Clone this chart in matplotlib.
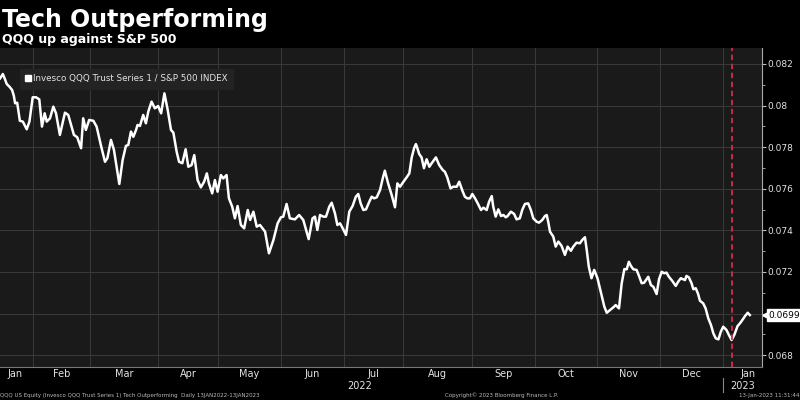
import numpy as np
import matplotlib.pyplot as plt
from matplotlib.lines import Line2D
from matplotlib.ticker import MultipleLocator

# trading day since 13-Jan-2022 and QQQ / SPX ratio
day = [0.5, 1.4, 2.0, 2.7, 3.6, 4.5, 5.1, 5.5, 6.2, 7.1, 8.1, 9.4, 10.3, 11.4, 12.5, 13.6,
       14.5, 15.4, 16.1, 17.2, 18.3, 19.2, 20.5, 22.2, 23.3, 25.2, 26.3, 27.6, 28.3, 29.2,
       30.3, 31.7, 32.8, 34.2, 35.6, 36.4, 37.6, 38.6, 39.5, 40.4, 41.5, 42.6, 43.4, 44.3,
       45.1, 46.0, 46.5, 47.3, 48.4, 49.3, 50.1, 51.2, 52.3, 53.4, 54.4, 55.5, 56.6, 57.7,
       58.5, 59.6, 60.4, 61.5, 62.6, 63.5, 64.6, 65.5, 66.6, 67.7, 68.8, 69.7, 70.4, 71.5,
       72.4, 73.3, 74.4, 75.2, 76.3, 77.1, 78.2, 79.1, 80.0, 81.1, 82.2, 83.4, 84.2, 85.3,
       86.4, 87.5, 89.2, 90.5, 92.0, 93.4, 94.5, 95.3, 96.4, 97.5, 99.2, 100.6, 102.0, 103.8,
       105.1, 105.9, 106.7, 107.6, 108.7, 109.6, 110.7, 111.5, 112.6, 113.4, 114.3, 115.2,
       116.3, 117.4, 118.5, 119.6, 120.4, 121.2, 122.1, 123.0, 124.1, 124.9, 125.7, 126.6,
       127.7, 128.6, 129.3, 130.4, 131.6, 132.7, 133.5, 134.4, 135.3, 136.6, 137.5, 138.3,
       139.1, 139.7, 140.2, 140.8, 141.6, 142.4, 143.3, 144.2, 145.0, 146.4, 147.5, 148.7,
       149.4, 150.2, 151.3, 152.2, 153.4, 154.2, 155.4, 156.1, 156.9, 157.8, 158.6, 159.5,
       160.4, 161.5, 162.3, 163.4, 164.2, 165.1, 165.6, 166.4, 167.3, 168.2, 169.0, 169.8,
       170.4, 171.5, 172.6, 173.4, 174.5, 175.3, 176.2, 177.3, 178.2, 179.0, 180.1, 180.9,
       182.0, 182.9, 183.5, 184.0, 184.6, 185.7, 186.5, 187.4, 188.5, 189.6, 190.5, 191.6,
       192.4, 193.5, 194.6, 195.4, 196.3, 196.9, 197.6, 198.5, 199.4, 200.5, 201.7, 202.8,
       203.6, 204.7, 205.8, 206.6, 207.7, 208.6, 209.5, 210.3, 211.0, 211.7, 212.5, 213.6,
       214.4, 215.3, 216.1, 216.9, 217.5, 218.4, 219.2, 220.3, 221.1, 222.0, 222.8, 223.6,
       224.4, 225.5, 226.7, 227.5, 228.4, 229.8, 230.3, 231.1, 232.0, 232.6, 233.4, 234.2,
       234.8, 235.9, 236.7, 237.6, 238.5, 239.3, 240.1, 241.0, 241.8, 242.6, 243.7, 244.5,
       245.4, 246.3, 247.4, 248.2, 249.0, 249.9, 250.8, 251.5]
ratio = [0.08131, 0.08152, 0.08131, 0.08104, 0.08091, 0.08075, 0.08046, 0.08011, 0.08014, 0.07927,
         0.07923, 0.07886, 0.07923, 0.08040, 0.08040, 0.08030, 0.07899, 0.07963, 0.07923, 0.07939,
         0.07995, 0.07963, 0.07859, 0.07966, 0.07955, 0.07859, 0.07848, 0.07795, 0.07939, 0.07883,
         0.07931, 0.07927, 0.07899, 0.07811, 0.07730, 0.07747, 0.07835, 0.07787, 0.07706, 0.07623,
         0.07738, 0.07806, 0.07811, 0.07875, 0.07850, 0.07883, 0.07907, 0.07902, 0.07955, 0.07915,
         0.07971, 0.08019, 0.07987, 0.07998, 0.07963, 0.08059, 0.07979, 0.07883, 0.07870, 0.07778,
         0.07730, 0.07723, 0.07790, 0.07706, 0.07714, 0.07762, 0.07642, 0.07607, 0.07634, 0.07674,
         0.07626, 0.07578, 0.07642, 0.07586, 0.07666, 0.07650, 0.07666, 0.07554, 0.07514, 0.07458,
         0.07517, 0.07426, 0.07410, 0.07498, 0.07450, 0.07490, 0.07418, 0.07426, 0.07394, 0.07290,
         0.07354, 0.07434, 0.07463, 0.07466, 0.07527, 0.07458, 0.07453, 0.07474, 0.07450, 0.07358,
         0.07458, 0.07466, 0.07402, 0.07474, 0.07466, 0.07466, 0.07514, 0.07533, 0.07482, 0.07426,
         0.07434, 0.07410, 0.07378, 0.07490, 0.07517, 0.07562, 0.07575, 0.07530, 0.07498, 0.07501,
         0.07538, 0.07562, 0.07554, 0.07559, 0.07594, 0.07650, 0.07687, 0.07626, 0.07570, 0.07511,
         0.07626, 0.07610, 0.07629, 0.07655, 0.07674, 0.07751, 0.07795, 0.07815, 0.07795, 0.07767,
         0.07751, 0.07699, 0.07742, 0.07706, 0.07723, 0.07751, 0.07714, 0.07690, 0.07682, 0.07655,
         0.07602, 0.07610, 0.07610, 0.07634, 0.07586, 0.07562, 0.07554, 0.07554, 0.07575, 0.07554,
         0.07530, 0.07498, 0.07509, 0.07498, 0.07538, 0.07565, 0.07514, 0.07466, 0.07501, 0.07469,
         0.07474, 0.07463, 0.07469, 0.07490, 0.07479, 0.07453, 0.07458, 0.07498, 0.07527, 0.07530,
         0.07498, 0.07458, 0.07442, 0.07437, 0.07450, 0.07469, 0.07474, 0.07442, 0.07394, 0.07370,
         0.07322, 0.07346, 0.07325, 0.07282, 0.07322, 0.07302, 0.07322, 0.07341, 0.07338, 0.07354,
         0.07367, 0.07306, 0.07225, 0.07170, 0.07210, 0.07170, 0.07098, 0.07033, 0.07004, 0.07017,
         0.07030, 0.07041, 0.07025, 0.07145, 0.07214, 0.07213, 0.07249, 0.07229, 0.07213, 0.07210,
         0.07181, 0.07146, 0.07148, 0.07165, 0.07177, 0.07137, 0.07129, 0.07094, 0.07165, 0.07201,
         0.07194, 0.07197, 0.07177, 0.07158, 0.07133, 0.07153, 0.07170, 0.07161, 0.07181, 0.07174,
         0.07146, 0.07117, 0.07122, 0.07094, 0.07062, 0.07049, 0.07025, 0.06977, 0.06945, 0.06905,
         0.06881, 0.06876, 0.06913, 0.06937, 0.06921, 0.06897, 0.06873, 0.06897, 0.06940, 0.06953,
         0.06969, 0.06988, 0.07004, 0.06993]

# months on the axis and their number of trading days in the window
months = ['Jan', 'Feb', 'Mar', 'Apr', 'May', 'Jun', 'Jul', 'Aug', 'Sep', 'Oct', 'Nov', 'Dec', 'Jan']
month_days = [12, 19, 23, 20, 21, 21, 20, 23, 21, 21, 21, 21, 9]
years = ['2022', '2023']
marker_day = 245.5

series_label = 'Invesco QQQ Trust Series 1 / S&P 500 INDEX'
y_ticks = [0.068, 0.070, 0.072, 0.074, 0.076, 0.078, 0.080, 0.082]
y_labels = ['0.068', '', '0.072', '0.074', '0.076', '0.078', '0.08', '0.082']

x_min, x_max = 0.45, 255.45
txt = '#e4e4e4'

fig = plt.figure(figsize=(8, 4), dpi=100, facecolor='black')
ax = fig.add_axes([0, 0.0825, 0.952, 0.7975])
ax.set_facecolor('#1a1a1a')

ax.plot(day, ratio, color='white', lw=1.8, solid_joinstyle='round', zorder=3)
ax.axvline(marker_day, color='#d42a4f', ls=(0, (3, 2)), lw=1.3, zorder=4)

ax.set_xlim(x_min, x_max)
ax.set_ylim(0.067432, 0.082769)

# month boundaries (gridlines) and label centres
starts = np.concatenate([[0], np.cumsum(month_days)]) - 0.5
ax.set_xticks(starts[1:-1])
ax.set_xticklabels([])
ax.tick_params(axis='x', length=0)
edges = starts.copy()
edges[-1] = x_max + 4
for i, m in enumerate(months):
    ax.text((edges[i] + edges[i + 1]) / 2, -0.022, m, transform=ax.get_xaxis_transform(),
            ha='center', va='center', fontsize=7, color=txt)

year_edges = [starts[0], starts[12], x_max]
for i, yr in enumerate(years):
    ax.text((year_edges[i] + year_edges[i + 1]) / 2, -0.058, yr, transform=ax.get_xaxis_transform(),
            ha='center', va='center', fontsize=7, color=txt)
ax.plot([starts[12], starts[12]], [-0.034, -0.078], transform=ax.get_xaxis_transform(),
        color='#888888', lw=0.8, clip_on=False)

ax.yaxis.tick_right()
ax.set_yticks(y_ticks)
ax.set_yticklabels(y_labels)
ax.yaxis.set_minor_locator(MultipleLocator(0.001))
ax.tick_params(axis='y', which='major', length=3, color='#bbbbbb', labelcolor=txt, labelsize=6.5, pad=1.5)
ax.tick_params(axis='y', which='minor', length=2, color='#bbbbbb')

ax.grid(True, color='#3a3a3a', lw=0.7)
ax.set_axisbelow(True)
for s in ['left', 'top']:
    ax.spines[s].set_visible(False)
ax.spines['right'].set_color('#aaaaaa')
ax.spines['right'].set_linewidth(0.8)
ax.spines['bottom'].set_color('#777777')
ax.spines['bottom'].set_linewidth(0.8)

# last value tag on the right axis
last = ratio[-1]
ax.plot([1.005], [last], marker='<', ms=5, color='white', transform=ax.get_yaxis_transform(), clip_on=False)
ax.text(1.009, last, f'{last:.4f}', transform=ax.get_yaxis_transform(), ha='left', va='center',
        fontsize=6.5, color='black', bbox=dict(boxstyle='square,pad=0.2', fc='white', ec='white'))

handle = Line2D([], [], marker='s', color='white', ls='none', ms=4.5)
leg = ax.legend([handle], [series_label], loc='upper left', bbox_to_anchor=(0.026, 0.934),
                borderaxespad=0, frameon=True, fancybox=False, facecolor='#232323', edgecolor='#232323',
                fontsize=6.3, labelcolor=txt, handlelength=0.6, handletextpad=0.3, borderpad=0.6)
leg.get_frame().set_alpha(1)

fig.text(0.003, 0.933, 'Tech Outperforming', fontsize=17, fontweight='bold', color='white', va='baseline')
fig.text(0.003, 0.8925, 'QQQ up against S&P 500', fontsize=9, fontweight='bold', color='white', va='baseline')

fig.text(0.0, 0.0125, 'QQQ US Equity (Invesco QQQ Trust Series 1) Tech Outperforming  Daily 13JAN2022-13JAN2023',
         fontsize=4.0, color='#bbbbbb', va='center', ha='left')
fig.text(0.556, 0.0125, 'Copyright\u00a9 2023 Bloomberg Finance L.P.', fontsize=4.0, color='#bbbbbb',
         va='center', ha='left')
fig.text(0.999, 0.0125, '13-Jan-2023 11:31:44', fontsize=4.0, color='#bbbbbb', va='center', ha='right')

fig.savefig('out.png', dpi=100, facecolor='black')
